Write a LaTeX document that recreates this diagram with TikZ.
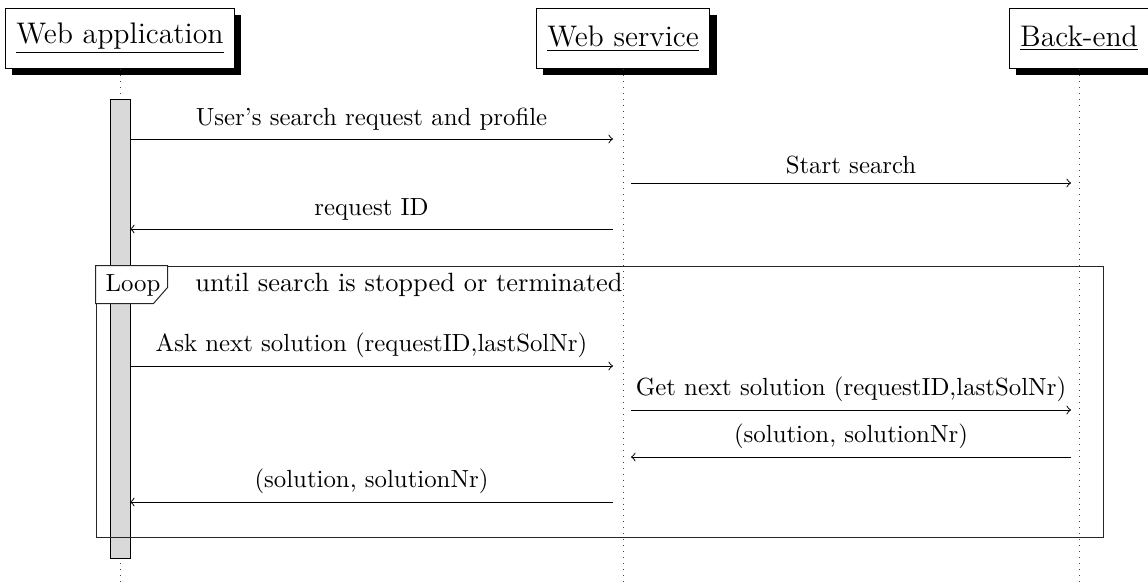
\documentclass[tikz,border=0pt]{standalone}
\usetikzlibrary{shadows,fit}
\begin{document}
\begin{tikzpicture}[x=0.4032pt,y=-0.4032pt,
  thread/.style={draw, fill=white, inner xsep=4.4pt, minimum height=24.2pt,
    font=\large, drop shadow={shadow xshift=2.8pt, shadow yshift=-2.8pt, opacity=1, fill=black}},
  life/.style={dotted, black!75},
  msg/.style={->, black},
  actbox/.style={draw, fill=gray!30, inner sep=0pt},
  frame/.style={draw, inner sep=0pt, black!85}]
\useasboundingbox (0,0) rectangle (1148,585);
% threads
\node[thread] (wa) at (120,38.5) {\underline{Web application}};
\node[thread] (ws) at (623,38.5) {\underline{Web service}};
\node[thread] (be) at (1079,38.5) {\underline{Back-end}};
% lifelines
\coordinate (waend) at (120,585);
\coordinate (wsend) at (623,585);
\coordinate (beend) at (1079,585);
\draw[life] (wa.south) -- (waend);
\draw[life] (ws.south) -- (wsend);
\draw[life] (be.south) -- (beend);
% activation
\node[actbox, fit={(110,99) (130,558)}] (act) {};
% messages before loop
\coordinate (m1a) at (130,139); \coordinate (m1b) at (613,139);
\draw[msg] (m1a) -- node[above] {User's search request and profile} (m1b);
\coordinate (m2a) at (631,183); \coordinate (m2b) at (1071,183);
\draw[msg] (m2a) -- node[above] {Start search} (m2b);
\coordinate (m3a) at (613,229); \coordinate (m3b) at (130,229);
\draw[msg] (m3a) -- node[above] {request ID} (m3b);
% loop frame
\node[frame, fit={(96,266) (1103,537)}] (loop) {};
\draw[black!85, fill=white] (loop.north west) -- ++(72,0) -- ++(0,22) -- ++(-14,16) -- ++(-58,0) -- cycle;
\node[anchor=base] (looplbl) at (133,291) {Loop};
\node[anchor=base west, inner sep=0pt, font=\fontsize{10.65}{13}\selectfont] (cond) at (195,291) {until search is stopped or terminated};
% messages in loop
\coordinate (m4a) at (130,366); \coordinate (m4b) at (613,366);
\draw[msg] (m4a) -- node[above] {Ask next solution (requestID,lastSolNr)} (m4b);
\coordinate (m5a) at (631,410); \coordinate (m5b) at (1071,410);
\draw[msg] (m5a) -- node[above] {Get next solution (requestID,lastSolNr)} (m5b);
\coordinate (m6a) at (1071,457); \coordinate (m6b) at (631,457);
\draw[msg] (m6a) -- node[above] {(solution, solutionNr)} (m6b);
\coordinate (m7a) at (613,502); \coordinate (m7b) at (130,502);
\draw[msg] (m7a) -- node[above] {(solution, solutionNr)} (m7b);
\end{tikzpicture}
\end{document}
